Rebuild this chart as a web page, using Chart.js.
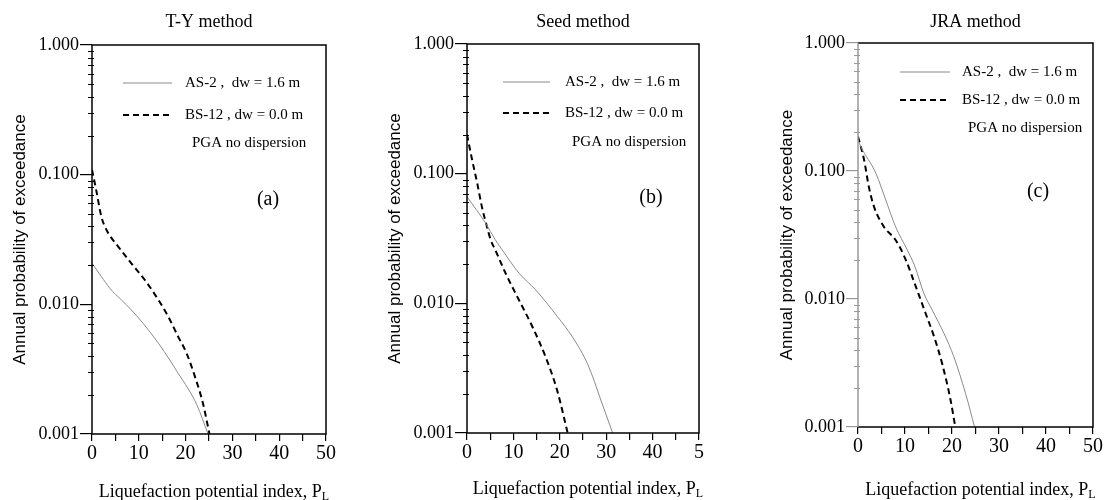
<!DOCTYPE html>
<html>
<head>
<meta charset="utf-8">
<script src="https://cdn.jsdelivr.net/npm/chart.js@4.4.1/dist/chart.umd.min.js"></script>
<style>
body{margin:0;background:#fff;}
#wrap{position:relative;width:1105px;height:500px;overflow:hidden;}
#wrap canvas{position:absolute;top:0;}
</style>
</head>
<body>
<div id="wrap">
  <canvas id="chart-a" width="345" height="500" style="left:0px"></canvas>
  <canvas id="chart-b" width="345" height="500" style="left:370px"></canvas>
  <canvas id="chart-c" width="365" height="500" style="left:740px"></canvas>
</div>
<script>
// values (x = P_L, y = annual probability)
const tyAsX = [0, 2.0, 3.8, 6.3, 8.4, 10.9, 14.2, 16.6, 18.4, 20.5, 22.4, 24.8];
const tyAsY = [0.0207, 0.0164, 0.0133, 0.0108, 0.00906, 0.00715, 0.00501, 0.00373, 0.00294, 0.00225, 0.00168, 0.001];
const tyBsX = [0, 0.9, 2.0, 3.1, 5.6, 8.4, 11.3, 14.2, 16.3, 18.4, 20.2, 22.0, 23.7, 25.1];
const tyBsY = [0.109, 0.076, 0.0475, 0.0375, 0.0279, 0.0207, 0.0154, 0.0108, 0.00803, 0.00564, 0.0042, 0.00277, 0.00173, 0.001];

const seedAsX = [0, 4.0, 6.1, 7.6, 11.2, 14.8, 19.5, 22.7, 25.6, 27.1, 28.6, 31.4];
const seedAsY = [0.0665, 0.0415, 0.0309, 0.0258, 0.0171, 0.0127, 0.00789, 0.00552, 0.00365, 0.00271, 0.0019, 0.001];
const seedBsX = [0, 1.1, 2.2, 3.2, 4.3, 5.1, 6.1, 8.3, 11.2, 14.1, 16.9, 19.4, 21.7];
const seedBsY = [0.2, 0.128, 0.0845, 0.0557, 0.039, 0.0309, 0.0258, 0.0171, 0.0106, 0.0066, 0.00389, 0.00215, 0.001];

const jraAsX = [0, 0.6, 3.8, 5.9, 8.0, 10.5, 12.1, 14.0, 15.8, 18.3, 20.4, 22.9, 24.8];
const jraAsY = [0.175, 0.155, 0.096, 0.0595, 0.0367, 0.0241, 0.018, 0.0111, 0.00819, 0.00538, 0.00353, 0.00182, 0.001];
const jraBsX = [0, 1.3, 2.3, 3.4, 5.5, 8.0, 10.1, 11.9, 14.4, 16.2, 17.9, 19.7, 20.7];
const jraBsY = [0.186, 0.122, 0.0755, 0.0527, 0.0367, 0.0289, 0.0205, 0.0137, 0.0077, 0.00506, 0.00313, 0.00162, 0.001];

const yTickValues = [0.001, 0.01, 0.1, 1];
const yTickLabels = ['0.001', '0.010', '0.100', '1.000'];
const xTickLabels = ['0', '10', '20', '30', '40', '50'];
const xTickLabelsB = ['0', '10', '20', '30', '40', '5'];   // "50" is cut in the scan
const seriesNames = ['AS-2 ,  dw = 1.6 m', 'BS-12 , dw = 0.0 m'];
const noteText = 'PGA no dispersion';

const SERIF = "'Liberation Serif', 'Times New Roman', serif";
const SANS = "'Liberation Sans', Arial, sans-serif";

//layout of each panel (pixels inside its canvas)
const panels = [
    {id: 'chart-a', title: 'T-Y method', letter: '(a)', xs: [tyAsX, tyBsX], ys: [tyAsY, tyBsY], xLabels: xTickLabels,
     yWidth: 92, top: 45, xHeight: 66, right: 19, leftColor: '#000', xTitleY: 497,
     yTitleX: 20, legend: {x1: 31, x2: 80, rows: [38, 70], text: 93, note: 100, noteY: 98}, letterPos: [176, 155]},
    {id: 'chart-b', title: 'Seed method', letter: '(b)', xs: [seedAsX, seedBsX], ys: [seedAsY, seedBsY], xLabels: xTickLabelsB,
     yWidth: 97, top: 44, xHeight: 67, right: 16, leftColor: '#000', xTitleY: 494,
     yTitleX: 25, legend: {x1: 36, x2: 83, rows: [38, 69], text: 98, note: 105, noteY: 98}, letterPos: [184, 154]},
    {id: 'chart-c', title: 'JRA method', letter: '(c)', xs: [jraAsX, jraBsX], ys: [jraAsY, jraBsY], xLabels: xTickLabels,
     yWidth: 118, top: 43, xHeight: 73, right: 12, leftColor: '#999', xTitleY: 495,
     yTitleX: 47, legend: {x1: 42, x2: 92, rows: [29, 57], text: 104, note: 110, noteY: 85}, letterPos: [180, 149]}
];

const lineStyles = [
    {color: '#8a8a8a', width: 1, dash: []},
    {color: '#000', width: 2, dash: [6, 4]}
];

function makeOverlay(p){
    return {
        id: 'overlay',
        afterDraw(chart){
            const ctx = chart.ctx;
            const a = chart.chartArea;
            const yScale = chart.scales.y;
            ctx.save();

            //frame
            ctx.lineWidth = 1.5;
            ctx.strokeStyle = '#000';
            ctx.beginPath();
            ctx.moveTo(a.left, a.bottom);
            ctx.lineTo(a.right, a.bottom);
            ctx.lineTo(a.right, a.top);
            ctx.lineTo(a.left, a.top);
            ctx.stroke();
            ctx.strokeStyle = p.leftColor;
            ctx.beginPath();
            ctx.moveTo(a.left, a.top);
            ctx.lineTo(a.left, a.bottom);
            ctx.stroke();

            //minor log ticks
            ctx.lineWidth = 1;
            ctx.strokeStyle = p.leftColor;
            for(let n = -3; n < 0; n++){
                for(let k = 2; k < 10; k++){
                    let y = Math.round(yScale.getPixelForValue(k * Math.pow(10, n))) + 0.5;
                    ctx.beginPath();
                    ctx.moveTo(a.left - 4, y);
                    ctx.lineTo(a.left + 2, y);
                    ctx.stroke();
                }
            }

            ctx.fillStyle = '#000';
            //title
            ctx.font = `18px ${SERIF}`;
            ctx.textAlign = 'center';
            ctx.textBaseline = 'middle';
            ctx.fillText(p.title, (a.left + a.right) / 2, 22);

            //y title
            ctx.save();
            ctx.translate(p.yTitleX, (a.top + a.bottom) / 2);
            ctx.rotate(-Math.PI / 2);
            ctx.font = `17px ${SANS}`;
            ctx.fillText('Annual probability of exceedance', 0, 0);
            ctx.restore();

            //x title with subscript
            ctx.font = `18px ${SERIF}`;
            let main = 'Liquefaction potential index, P';
            let w1 = ctx.measureText(main).width;
            ctx.font = `12px ${SERIF}`;
            let w2 = ctx.measureText('L').width;
            let x0 = (a.left + a.right) / 2 + 5 - (w1 + w2) / 2;
            let ty = p.xTitleY;
            ctx.textAlign = 'left';
            ctx.textBaseline = 'alphabetic';
            ctx.font = `18px ${SERIF}`;
            ctx.fillText(main, x0, ty);
            ctx.font = `12px ${SERIF}`;
            ctx.fillText('L', x0 + w1, ty + 3);

            //legend
            let lg = p.legend;
            lineStyles.forEach((s, i) => {
                let y = a.top + lg.rows[i];
                ctx.strokeStyle = s.color;
                ctx.lineWidth = s.width;
                ctx.setLineDash(s.dash);
                ctx.beginPath();
                ctx.moveTo(a.left + lg.x1, y);
                ctx.lineTo(a.left + lg.x2, y);
                ctx.stroke();
                ctx.setLineDash([]);
                ctx.font = `15px ${SERIF}`;
                ctx.textBaseline = 'middle';
                ctx.fillText(seriesNames[i], a.left + lg.text, y);
            });
            ctx.fillText(noteText, a.left + lg.note, a.top + lg.noteY);

            //panel letter
            ctx.font = `20px ${SERIF}`;
            ctx.textAlign = 'center';
            ctx.fillText(p.letter, a.left + p.letterPos[0], a.top + p.letterPos[1]);
            ctx.restore();
        }
    };
}

panels.forEach(p => {
    let datasets = p.xs.map((xs, i) => ({
        label: seriesNames[i],
        data: xs.map((x, j) => ({x: x, y: p.ys[i][j]})),
        borderColor: lineStyles[i].color,
        borderWidth: lineStyles[i].width,
        borderDash: lineStyles[i].dash,
        pointRadius: 0,
        cubicInterpolationMode: 'monotone',
        fill: false
    }));

    new Chart(document.getElementById(p.id), {
        type: 'line',
        data: {datasets: datasets},
        options: {
            responsive: false,
            animation: false,
            layout: {padding: {left: 0, top: p.top, right: p.right, bottom: 0}},
            plugins: {legend: {display: false}, tooltip: {enabled: false}, title: {display: false}},
            scales: {
                x: {
                    type: 'linear',
                    min: 0,
                    max: 50,
                    border: {display: false},
                    grid: {drawOnChartArea: false, tickLength: 7, color: '#000', lineWidth: 1.2},
                    ticks: {
                        stepSize: 5,
                        padding: 1,
                        maxRotation: 0,
                        autoSkip: false,
                        color: '#000',
                        font: {family: SERIF, size: 20},
                        callback: v => (v % 10 === 0 ? p.xLabels[v / 10] : '')
                    },
                    afterFit: s => { s.height = p.xHeight; }
                },
                y: {
                    type: 'logarithmic',
                    min: 0.001,
                    max: 1,
                    border: {display: false},
                    grid: {drawOnChartArea: false, tickLength: 12, color: p.leftColor, lineWidth: 1.2},
                    afterBuildTicks: s => { s.ticks = yTickValues.map(v => ({value: v})); },
                    ticks: {
                        padding: 1,
                        color: '#000',
                        font: {family: SERIF, size: 18},
                        callback: v => yTickLabels[yTickValues.indexOf(v)]
                    },
                    afterFit: s => { s.width = p.yWidth; }
                }
            }
        },
        plugins: [makeOverlay(p)]
    });
});
</script>
</body>
</html>
